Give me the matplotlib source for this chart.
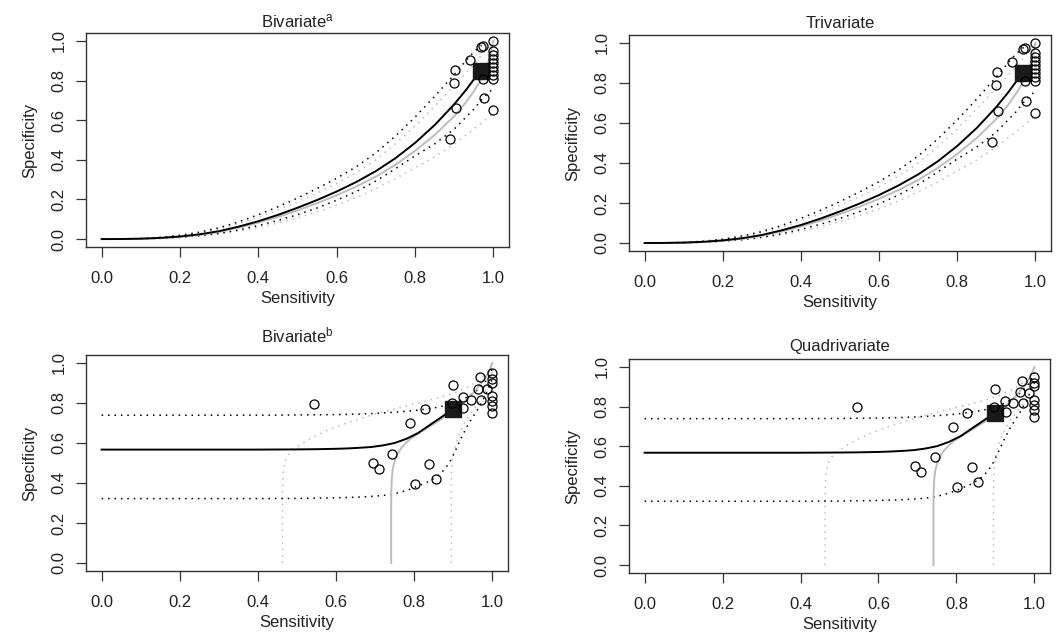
import matplotlib
matplotlib.use("Agg")
import matplotlib.pyplot as plt

plt.rcParams['font.family'] = ['Liberation Sans', 'DejaVu Sans']
plt.rcParams['mathtext.fontset'] = 'custom'
plt.rcParams['mathtext.rm'] = 'Liberation Sans'
plt.rcParams['mathtext.it'] = 'Liberation Sans:italic'

# ---------------- data ----------------
titles = [r"Bivariate$^{\mathrm{a}}$", "Trivariate", r"Bivariate$^{\mathrm{b}}$", "Quadrivariate"]
tick_vals = [0.0, 0.2, 0.4, 0.6, 0.8, 1.0]
tick_labels = ["0.0", "0.2", "0.4", "0.6", "0.8", "1.0"]

# study points, top row (same studies in both panels)
sens_top = [1.0, 0.968, 0.973, 0.941, 0.901, 0.900, 0.904, 0.890, 0.977, 0.999,
            1.0, 1.0, 1.0, 1.0, 1.0, 1.0, 1.0, 1.0, 0.973]
spec_top = [1.0, 0.968, 0.973, 0.904, 0.854, 0.788, 0.660, 0.503, 0.711, 0.649,
            0.95, 0.93, 0.91, 0.89, 0.87, 0.85, 0.83, 0.81, 0.81]

# study points, bottom row
sens_bot = [0.544, 0.899, 0.828, 0.790, 0.744, 0.694, 0.709, 0.839, 0.856, 0.802,
            0.896, 0.925, 0.926, 0.946, 0.968, 0.964, 0.985, 0.970,
            0.998, 0.998, 0.998, 0.998, 0.998, 0.998, 0.998]
spec_bot = [0.797, 0.889, 0.768, 0.698, 0.544, 0.500, 0.472, 0.496, 0.418, 0.396,
            0.800, 0.829, 0.775, 0.817, 0.928, 0.872, 0.868, 0.817,
            0.950, 0.919, 0.902, 0.834, 0.809, 0.783, 0.749]

# summary points
summ_top = (0.968, 0.849)
summ_bot = (0.899, 0.768)

# ---- curves, top row ----
top_mean_x = [0, .05, .1, .15, .2, .25, .3, .35, .4, .45, .5, .55, .6, .65, .7, .75, .8, .85, .9, .93, .95, .968]
top_mean_y = [0, .0003, .002, .006, .013, .024, .040, .063, .09, .122, .158, .197, .24, .288, .343, .408, .485, .575, .68, .752, .805, .852]

top_gray_x = [0, .05, .1, .15, .2, .25, .3, .35, .4, .45, .5, .55, .6, .65, .7, .75, .8, .85, .9, .93, .95, .97, .98, .99, 1.0]
top_gray_y = [0, .0002, .0015, .005, .011, .021, .036, .057, .083, .112, .145, .181, .221, .265, .315, .375, .445, .525, .62, .69, .745, .81, .855, .91, 1.0]

top_ciu_x = [0, .05, .1, .15, .2, .25, .3, .35, .4, .45, .5, .55, .6, .65, .7, .75, .8, .85, .9, .93, .95, .97]
top_ciu_y = [0, .0005, .003, .009, .019, .035, .057, .087, .123, .163, .207, .255, .307, .365, .435, .52, .615, .72, .83, .9, .945, .978]

top_cil_x = [0, .05, .1, .15, .2, .25, .3, .35, .4, .45, .5, .55, .6, .65, .7, .75, .8, .85, .9, .95, .975, 1.0]
top_cil_y = [0, .0002, .0012, .004, .009, .017, .029, .046, .068, .094, .123, .157, .196, .24, .293, .355, .42, .48, .555, .655, .715, .76]

top_pru_x = [0, .05, .1, .15, .2, .25, .3, .35, .4, .45, .5, .55, .6, .65, .7, .75, .8, .85, .9, .95, .975, 1.0]
top_pru_y = [0, .0004, .0025, .008, .017, .031, .051, .078, .11, .146, .188, .232, .28, .335, .40, .48, .57, .67, .775, .88, .94, .995]

top_prl_x = [0, .05, .1, .15, .2, .25, .3, .35, .4, .45, .5, .55, .6, .65, .7, .75, .8, .85, .9, .95, 1.0]
top_prl_y = [0, .0001, .001, .0035, .008, .015, .025, .04, .059, .081, .107, .137, .171, .21, .255, .305, .36, .415, .48, .555, .635]

# ---- curves, bottom row ----
bot_mean_x = [0, .3, .4, .5, .55, .6, .63, .66, .69, .72, .75, .78, .81, .84, .87, .899]
bot_mean_y = [.567, .567, .567, .568, .569, .571, .573, .576, .580, .588, .600, .621, .650, .690, .730, .768]

bot_gray_x = [.741, .741, .7412, .7425, .745, .75, .757, .767, .78, .795, .812, .83, .85, .876, .9, .925, .95, .97, .985, .995, 1.0]
bot_gray_y = [0.0, .25, .35, .42, .47, .51, .545, .575, .603, .628, .65, .672, .696, .728, .762, .80, .848, .895, .935, .975, 1.0]

bot_ciu_x = [0, .4, .5, .6, .65, .7, .75, .8, .85, .88, .91, .94, .96, .98, .99, 1.0]
bot_ciu_y = [.739, .739, .740, .742, .744, .748, .754, .762, .775, .787, .805, .834, .862, .9, .93, .97]

bot_cil_x = [0, .4, .5, .6, .65, .7, .74, .78, .81, .84, .86, .875, .89, .905, .92, .94, .96, .98, 1.0]
bot_cil_y = [.322, .322, .323, .326, .329, .334, .342, .362, .385, .41, .435, .463, .5, .56, .625, .7, .76, .83, .92]

bot_prl_x = [.463, .463, .4635, .465, .47, .48, .495, .515, .54, .58, .624, .67, .708, .75, .792, .835, .876, .91, .943, .97, .99, 1.0]
bot_prl_y = [0.0, .3, .4, .46, .51, .545, .573, .6, .628, .665, .698, .727, .749, .77, .792, .812, .834, .856, .885, .92, .96, 1.0]

bot_prr_x = [.895, .895, .896, .899, .905, .915, .93, .952, .977, .99, 1.0]
bot_prr_y = [0.0, .4, .47, .53, .585, .645, .705, .766, .834, .89, .96]

# ---------------- figure ----------------
W, H = 1061, 644
fig = plt.figure(figsize=(W / 100, H / 100), dpi=100)

def rect(l, t, r, b):
    return [l / W, (H - b) / H, (r - l) / W, (b - t) / H]

boxes = [rect(86, 33, 509, 247), rect(629, 35, 1051, 251),
         rect(86, 355, 508, 571), rect(629, 359, 1050, 573)]
title_pads = [4.3, 4.7, 9, 5.8]

TXT = '#222222'
GRAY = '#bdbdbd'
FS = 12

def style(ax, title, tpad):
    ax.set_xlim(-0.04, 1.04)
    ax.set_ylim(-0.04, 1.04)
    ax.set_xticks(tick_vals)
    ax.set_xticklabels(tick_labels)
    ax.set_yticks(tick_vals)
    ax.set_yticklabels(tick_labels, rotation=90, va='center')
    ax.tick_params(axis='both', direction='out', length=7, width=0.9,
                   colors='#333333', labelcolor=TXT, labelsize=FS)
    ax.tick_params(axis='x', pad=10)
    ax.tick_params(axis='y', pad=7)
    for s in ax.spines.values():
        s.set_color('#333333')
        s.set_linewidth(1.0)
    ax.set_xlabel("Sensitivity", fontsize=FS, color=TXT, labelpad=3.8)
    ax.set_ylabel("Specificity", fontsize=FS, color=TXT, labelpad=10)
    ax.set_title(title, fontsize=FS, color=TXT, pad=tpad)

dot_k = dict(color='black', lw=1.1, linestyle=(0, (1, 3.2)))
dot_g = dict(color=GRAY, lw=1.1, linestyle=(0, (1, 3.2)))

for i, box in enumerate(boxes):
    ax = fig.add_axes(box)
    if i < 2:
        ax.plot(top_prl_x, top_prl_y, **dot_g)
        ax.plot(top_pru_x, top_pru_y, **dot_g)
        ax.plot(top_cil_x, top_cil_y, **dot_k)
        ax.plot(top_ciu_x, top_ciu_y, **dot_k)
        ax.plot(top_gray_x, top_gray_y, color=GRAY, lw=1.4)
        ax.plot(top_mean_x, top_mean_y, color='black', lw=1.4)
        sx, sy = summ_top
        ptx, pty = sens_top, spec_top
    else:
        ax.plot(bot_prl_x, bot_prl_y, **dot_g)
        ax.plot(bot_prr_x, bot_prr_y, **dot_g)
        ax.plot(bot_cil_x, bot_cil_y, **dot_k)
        ax.plot(bot_ciu_x, bot_ciu_y, **dot_k)
        ax.plot(bot_gray_x, bot_gray_y, color=GRAY, lw=1.4)
        ax.plot(bot_mean_x, bot_mean_y, color='black', lw=1.4)
        sx, sy = summ_bot
        ptx, pty = sens_bot, spec_bot
    ax.plot([sx], [sy], marker='s', markersize=11, color='#1a1a1a', linestyle='none', zorder=4)
    ax.plot(ptx, pty, marker='o', markersize=6.5, markerfacecolor='none',
            markeredgecolor='black', markeredgewidth=0.9, linestyle='none', zorder=5)
    style(ax, titles[i], title_pads[i])

fig.savefig("out.png", dpi=100)
